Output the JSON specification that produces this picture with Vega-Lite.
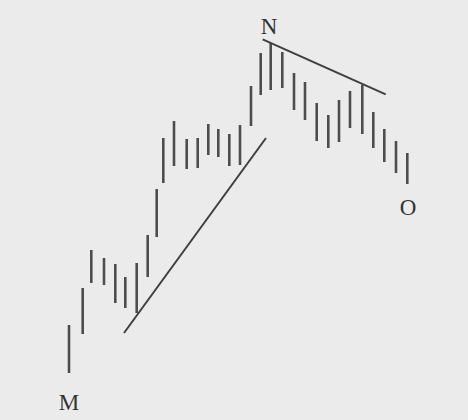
{
  "$schema": "https://vega.github.io/schema/vega-lite/v6.json",
  "width": 468,
  "height": 420,
  "autosize": {"type": "none"},
  "padding": 0,
  "background": "#ebebeb",
  "config": {"view": {"stroke": null}},
  "datasets": {
    "bars": [
      {"t": 6.9, "high": 9.5, "low": 4.7},
      {"t": 8.27, "high": 13.2, "low": 8.6},
      {"t": 9.13, "high": 17.0, "low": 13.7},
      {"t": 10.4, "high": 16.2, "low": 13.5},
      {"t": 11.53, "high": 15.6, "low": 11.7},
      {"t": 12.53, "high": 14.3, "low": 11.2},
      {"t": 13.67, "high": 15.7, "low": 10.7},
      {"t": 14.77, "high": 18.5, "low": 14.3},
      {"t": 15.67, "high": 23.1, "low": 18.3},
      {"t": 16.33, "high": 28.2, "low": 23.7},
      {"t": 17.4, "high": 29.9, "low": 25.4},
      {"t": 18.67, "high": 28.1, "low": 25.1},
      {"t": 19.77, "high": 28.2, "low": 25.2},
      {"t": 20.83, "high": 29.6, "low": 26.5},
      {"t": 21.83, "high": 29.1, "low": 26.3},
      {"t": 22.93, "high": 28.6, "low": 25.4},
      {"t": 24.0, "high": 29.5, "low": 25.5},
      {"t": 25.1, "high": 33.4, "low": 29.4},
      {"t": 26.07, "high": 36.7, "low": 32.5},
      {"t": 27.07, "high": 37.7, "low": 33.0},
      {"t": 28.23, "high": 36.8, "low": 33.2},
      {"t": 29.4, "high": 34.7, "low": 31.0},
      {"t": 30.5, "high": 33.8, "low": 30.0},
      {"t": 31.67, "high": 31.7, "low": 27.9},
      {"t": 32.83, "high": 30.5, "low": 27.2},
      {"t": 33.9, "high": 32.0, "low": 27.8},
      {"t": 35.0, "high": 32.9, "low": 29.2},
      {"t": 36.23, "high": 33.5, "low": 28.6},
      {"t": 37.33, "high": 30.8, "low": 27.2},
      {"t": 38.43, "high": 29.1, "low": 25.8},
      {"t": 39.6, "high": 27.9, "low": 24.7},
      {"t": 40.73, "high": 26.7, "low": 23.6}
    ],
    "lines": [
      {"line": "up", "t": 12.4, "price": 8.7},
      {"line": "up", "t": 26.6, "price": 28.2},
      {"line": "down", "t": 26.27, "price": 38.07},
      {"line": "down", "t": 38.57, "price": 32.57}
    ],
    "labels": [
      {"label": "M", "t": 6.9, "price": 1.7},
      {"label": "N", "t": 26.9, "price": 39.3},
      {"label": "O", "t": 40.8, "price": 21.2}
    ]
  },
  "layer": [
    {
      "data": {"name": "bars"},
      "mark": {"type": "rule", "strokeWidth": 2.6, "color": "#4d4d4d"},
      "encoding": {
        "x": {"field": "t", "type": "quantitative", "scale": {"domain": [0, 46.8], "nice": false, "zero": false}, "axis": null},
        "y": {"field": "low", "type": "quantitative", "scale": {"domain": [0, 42], "nice": false, "zero": false}, "axis": null},
        "y2": {"field": "high"}
      }
    },
    {
      "data": {"name": "lines"},
      "mark": {"type": "line", "strokeWidth": 2, "color": "#3f3f3f"},
      "encoding": {
        "x": {"field": "t", "type": "quantitative", "scale": {"domain": [0, 46.8], "nice": false, "zero": false}, "axis": null},
        "y": {"field": "price", "type": "quantitative", "scale": {"domain": [0, 42], "nice": false, "zero": false}, "axis": null},
        "detail": {"field": "line"}
      }
    },
    {
      "data": {"name": "labels"},
      "mark": {"type": "text", "font": "Liberation Serif", "fontSize": 23, "color": "#333333", "align": "center", "baseline": "middle"},
      "encoding": {
        "x": {"field": "t", "type": "quantitative", "scale": {"domain": [0, 46.8], "nice": false, "zero": false}, "axis": null},
        "y": {"field": "price", "type": "quantitative", "scale": {"domain": [0, 42], "nice": false, "zero": false}, "axis": null},
        "text": {"field": "label"}
      }
    }
  ]
}
